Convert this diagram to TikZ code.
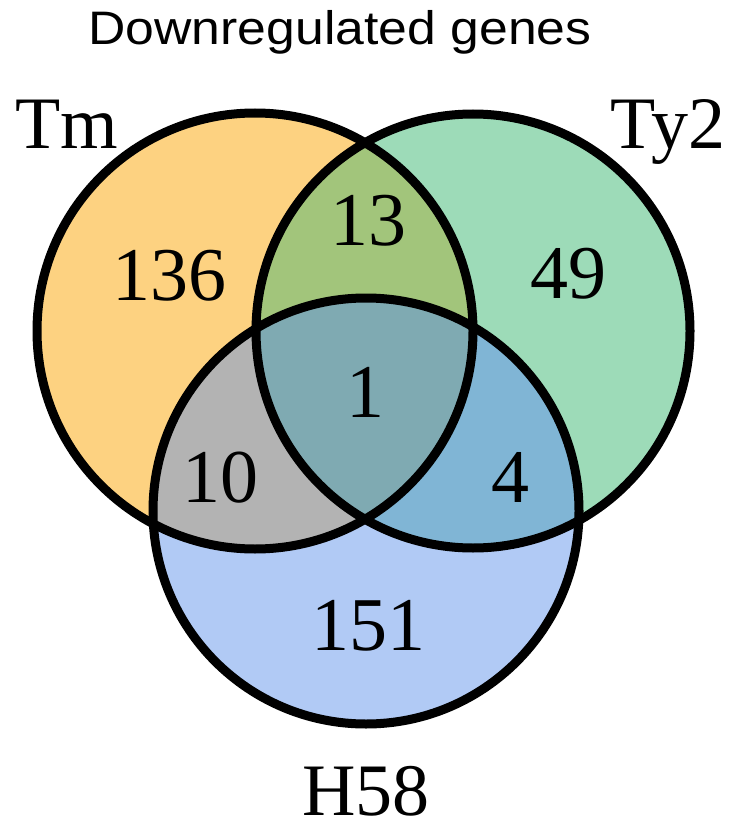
\documentclass[tikz,border=0pt]{standalone}
\usepackage{fontspec}
\setmainfont{Liberation Serif}
\newfontfamily\titlefont{Liberation Sans}
\definecolor{tmfill}{HTML}{FDD281}
\definecolor{tyfill}{HTML}{9DDBB8}
\definecolor{hfill}{HTML}{B1CAF5}
\definecolor{tmtyfill}{HTML}{A2C57B}
\definecolor{tmhfill}{HTML}{B3B3B3}
\definecolor{tyhfill}{HTML}{80B5D5}
\definecolor{allfill}{HTML}{7FAAB2}
\tikzset{
  setlabel/.style={anchor=base, inner sep=0pt, font=\fontsize{74}{74}\selectfont},
  count/.style={anchor=base, inner sep=0pt, font=\fontsize{76}{76}\selectfont},
  ring/.style={draw=black, line width=9pt},
}
\begin{document}
\begin{tikzpicture}[x=1pt, y=-1pt]
  \useasboundingbox (0,0) rectangle (730,826);
  \fill[white] (0,0) rectangle (730,826);

  % set centres
  \coordinate (ctm) at (255,331);
  \coordinate (cty) at (473,331);
  \coordinate (ch)  at (366,511);
  \def\rtm{218pt}
  \def\rty{217pt}
  \def\rh{213pt}

  % single sets
  \fill[tmfill] (ctm) circle[radius=\rtm];
  \fill[tyfill] (cty) circle[radius=\rty];
  \fill[hfill]  (ch)  circle[radius=\rh];

  % pairwise overlaps
  \begin{scope}
    \clip (ctm) circle[radius=\rtm];
    \fill[tmtyfill] (cty) circle[radius=\rty];
    \fill[tmhfill]  (ch)  circle[radius=\rh];
  \end{scope}
  \begin{scope}
    \clip (cty) circle[radius=\rty];
    \fill[tyhfill] (ch) circle[radius=\rh];
  \end{scope}
  % triple overlap
  \begin{scope}
    \clip (ctm) circle[radius=\rtm];
    \clip (cty) circle[radius=\rty];
    \fill[allfill] (ch) circle[radius=\rh];
  \end{scope}

  % outlines
  \draw[ring] (ctm) circle[radius=\rtm];
  \draw[ring] (cty) circle[radius=\rty];
  \draw[ring] (ch)  circle[radius=\rh];

  % title and set names
  \node[anchor=base, inner sep=0pt, font=\titlefont\fontsize{47}{47}\selectfont] (title) at (340,45) {\scalebox{1.1}[1]{Downregulated genes}};
  \node[setlabel] (tm)  at (67,149)  {Tm};
  \node[setlabel] (ty2) at (668,149) {Ty2};
  \node[setlabel] (h58) at (366,815) {H58};

  % region counts
  \node[count] (n136) at (169,300) {136};
  \node[count] (n13)  at (368,245) {13};
  \node[count] (n49)  at (568,298) {49};
  \node[count] (n1)   at (365,417) {1};
  \node[count] (n10)  at (220,502) {10};
  \node[count] (n4)   at (510,502) {4};
  \node[count] (n151) at (368,650) {151};
\end{tikzpicture}
\end{document}
